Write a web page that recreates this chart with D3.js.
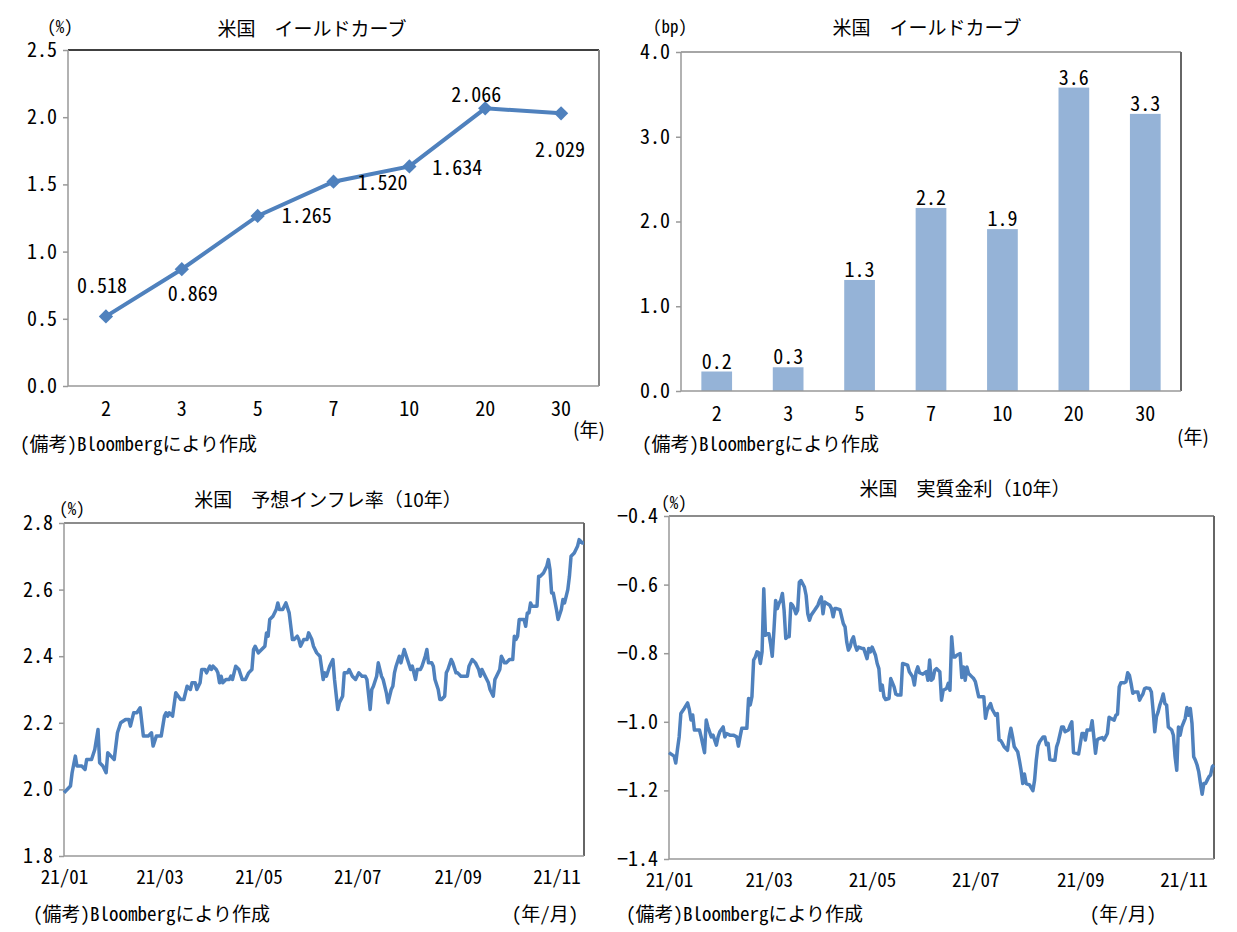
<!DOCTYPE html>
<html>
<head>
<meta charset="utf-8">
<script src="https://cdn.jsdelivr.net/npm/d3@7"></script>
<style>
body { margin: 0; background: #fff; }
text { font-family: "Noto Sans CJK JP", "Noto Sans", sans-serif; fill: #000; }
.num { font-feature-settings: "hwid"; }
</style>
</head>
<body>
<svg id="chart" width="1237" height="932"></svg>
<script>
// ---- data ----
const tenors = ["2", "3", "5", "7", "10", "20", "30"];
const yieldLevels = [0.518, 0.869, 1.265, 1.520, 1.634, 2.066, 2.029];
const yieldChanges = [0.23, 0.28, 1.31, 2.16, 1.91, 3.58, 3.27];

const inflDates = ["01-04","01-08","01-09","01-11","01-12","01-15","01-17","01-18","01-21","01-23","01-25","01-26","01-28","01-30","01-31",
  "02-02","02-04","02-06","02-08","02-11","02-13","02-14","02-16","02-18","02-20","02-22","02-25","02-27","02-28",
  "03-02","03-05","03-07","03-08","03-09","03-10","03-12","03-14","03-17","03-19","03-21","03-23","03-24","03-26","03-27","03-29","03-30",
  "04-01","04-02","04-04","04-05","04-06","04-08","04-09","04-10","04-11","04-12","04-14","04-16","04-17","04-18","04-20","04-22","04-24","04-26","04-28","04-30",
  "05-01","05-02","05-04","05-06","05-08","05-09","05-10","05-11","05-13","05-15","05-16","05-17","05-19","05-21","05-23","05-25","05-26","05-28","05-29","05-30",
  "06-01","06-03","06-04","06-06","06-07","06-09","06-11","06-13","06-14","06-15","06-17","06-19","06-20","06-22","06-23","06-25","06-26","06-28","06-29",
  "07-01","07-03","07-05","07-07","07-09","07-10","07-12","07-13","07-14","07-16","07-17","07-19","07-20","07-22","07-23","07-25","07-26","07-27","07-28","07-30","07-31",
  "08-02","08-04","08-06","08-07","08-09","08-10","08-12","08-13","08-15","08-16","08-17","08-19","08-20","08-21","08-23","08-24","08-25","08-27","08-28","08-29","08-31",
  "09-01","09-03","09-04","09-06","09-08","09-10","09-11","09-13","09-15","09-17","09-18","09-19","09-21","09-23","09-24","09-26","09-27","09-28","09-30",
  "10-01","10-03","10-04","10-06","10-08","10-09","10-10","10-11","10-12","10-13","10-15","10-16","10-17","10-18","10-19","10-20","10-22","10-23","10-24","10-25","10-27","10-29","10-30","10-31",
  "11-01","11-02","11-04","11-05","11-07","11-08","11-09","11-11","11-12","11-13","11-15","11-17","11-18","11-20","11-21"];
const inflValues = [1.99,2.01,2.05,2.10,2.07,2.07,2.06,2.09,2.09,2.12,2.18,2.08,2.07,2.05,2.11,
  2.10,2.09,2.17,2.20,2.21,2.21,2.19,2.23,2.23,2.245,2.16,2.16,2.17,2.13,
  2.16,2.16,2.22,2.23,2.22,2.23,2.22,2.29,2.27,2.27,2.31,2.30,2.32,2.32,2.30,2.32,2.36,
  2.36,2.35,2.37,2.36,2.37,2.36,2.35,2.32,2.34,2.32,2.33,2.33,2.34,2.33,2.37,2.36,2.33,2.33,2.35,2.36,
  2.42,2.43,2.41,2.42,2.43,2.47,2.46,2.51,2.52,2.54,2.56,2.54,2.54,2.56,2.53,2.45,2.45,2.46,2.45,2.43,
  2.45,2.45,2.47,2.45,2.43,2.41,2.40,2.33,2.35,2.34,2.37,2.39,2.33,2.24,2.26,2.28,2.35,2.35,2.36,
  2.34,2.33,2.35,2.34,2.34,2.33,2.24,2.30,2.31,2.34,2.38,2.34,2.33,2.29,2.26,2.30,2.31,2.35,2.37,2.40,2.38,
  2.42,2.39,2.36,2.37,2.33,2.36,2.36,2.37,2.40,2.42,2.38,2.38,2.37,2.33,2.30,2.27,2.27,2.28,2.35,2.36,2.39,
  2.38,2.35,2.35,2.34,2.34,2.34,2.37,2.39,2.38,2.36,2.34,2.36,2.34,2.32,2.30,2.28,2.33,2.34,2.36,
  2.40,2.38,2.38,2.39,2.39,2.46,2.45,2.46,2.51,2.51,2.51,2.49,2.53,2.53,2.56,2.55,2.55,2.55,2.64,2.64,2.65,2.67,2.69,2.66,
  2.59,2.59,2.54,2.51,2.54,2.57,2.56,2.60,2.64,2.70,2.71,2.73,2.75,2.74,2.74];

const realDates = ["01-04","01-07","01-08","01-09","01-10","01-11","01-13","01-15","01-16","01-17","01-18","01-19","01-20","01-22","01-23","01-25","01-26","01-27","01-29","01-30",
  "02-01","02-02","02-03","02-05","02-06","02-07","02-09","02-11","02-13","02-14","02-15","02-16","02-17","02-19","02-20","02-21","02-22","02-23","02-24","02-25","02-26","02-27","02-28",
  "03-01","03-02","03-03","03-04","03-05","03-06","03-07","03-08","03-09","03-10","03-11","03-12","03-13","03-14","03-15","03-16","03-17","03-18","03-19","03-20","03-21","03-22","03-23","03-25","03-26","03-27","03-28","03-29","03-31",
  "04-02","04-03","04-04","04-05","04-06","04-07","04-09","04-10","04-11","04-12","04-13","04-15","04-17","04-18","04-19","04-20","04-21","04-22","04-23","04-24","04-25","04-26","04-28","04-29","04-30",
  "05-01","05-02","05-03","05-04","05-06","05-07","05-08","05-09","05-10","05-11","05-12","05-14","05-15","05-17","05-18","05-19","05-21","05-22","05-25","05-26","05-28","05-29","05-30","05-31",
  "06-01","06-03","06-05","06-06","06-07","06-08","06-09","06-10","06-11","06-13","06-14","06-15","06-17","06-18","06-19","06-20","06-21","06-22","06-23","06-25","06-26","06-27","06-28","06-29","06-30",
  "07-02","07-03","07-04","07-06","07-08","07-09","07-10","07-11","07-13","07-14","07-16","07-17","07-18","07-19","07-20","07-21","07-23","07-24","07-25","07-26","07-27","07-29","07-30","07-31",
  "08-01","08-02","08-03","08-05","08-07","08-08","08-09","08-10","08-11","08-13","08-14","08-15","08-16","08-17","08-19","08-20","08-21","08-22","08-24","08-25","08-26","08-28","08-29","08-30","08-31",
  "09-02","09-03","09-05","09-06","09-07","09-08","09-10","09-11","09-12","09-13","09-14","09-15","09-17","09-18","09-20","09-21","09-22","09-24","09-25","09-26","09-27","09-28","09-30",
  "10-01","10-02","10-03","10-04","10-05","10-06","10-08","10-09","10-10","10-11","10-12","10-13","10-15","10-16","10-17","10-18","10-19","10-20","10-21","10-22","10-23","10-24","10-25","10-26","10-28","10-29","10-30","10-31",
  "11-01","11-02","11-03","11-05","11-06","11-07","11-08","11-09","11-10","11-11","11-12","11-13","11-14","11-15","11-16","11-17","11-18","11-19","11-20","11-21","11-22"];
const realValues = [-1.09,-1.10,-1.12,-1.08,-1.044,-0.976,-0.961,-0.945,-0.964,-0.995,-0.98,-1.024,-1.024,-1.024,-1.044,-1.09,-0.995,-1.015,-1.044,-1.039,
  -1.068,-1.044,-1.029,-1.015,-1.044,-1.034,-1.039,-1.039,-1.044,-1.071,-1.044,-1.019,-1.019,-1.019,-0.932,-0.951,-0.927,-0.82,-0.811,-0.796,-0.799,-0.83,-0.796,
  -0.612,-0.748,-0.743,-0.743,-0.772,-0.809,-0.733,-0.646,-0.67,-0.655,-0.646,-0.626,-0.675,-0.757,-0.752,-0.752,-0.655,-0.66,-0.67,-0.685,-0.675,-0.593,-0.588,-0.607,-0.631,-0.685,-0.704,-0.689,-0.675,
  -0.66,-0.646,-0.636,-0.685,-0.651,-0.654,-0.66,-0.67,-0.694,-0.67,-0.67,-0.673,-0.714,-0.723,-0.767,-0.791,-0.782,-0.762,-0.752,-0.777,-0.791,-0.782,-0.786,-0.786,-0.801,
  -0.816,-0.786,-0.796,-0.782,-0.806,-0.83,-0.845,-0.908,-0.893,-0.927,-0.935,-0.932,-0.874,-0.898,-0.919,-0.922,-0.922,-0.830,-0.835,-0.854,-0.869,-0.893,-0.854,-0.840,
  -0.857,-0.861,-0.854,-0.879,-0.820,-0.879,-0.874,-0.850,-0.845,-0.854,-0.937,-0.908,-0.903,-0.888,-0.908,-0.752,-0.811,-0.811,-0.806,-0.801,-0.871,-0.840,-0.879,-0.840,-0.859,
  -0.869,-0.874,-0.883,-0.927,-0.927,-0.927,-0.990,-0.966,-0.947,-0.964,-0.981,-0.976,-1.053,-1.055,-1.063,-1.073,-1.083,-1.044,-1.019,-1.044,-1.073,-1.087,-1.112,-1.141,
  -1.180,-1.152,-1.180,-1.184,-1.201,-1.170,-1.112,-1.071,-1.058,-1.044,-1.044,-1.067,-1.063,-1.110,-1.112,-1.112,-1.073,-1.058,-1.015,-1.015,-1.029,-1.024,-1.010,-1.000,-1.090,
  -1.092,-1.094,-1.034,-1.034,-1.053,-1.024,-1.024,-0.997,-1.044,-1.092,-1.053,-1.049,-1.046,-1.053,-1.034,-0.987,-0.990,-0.995,-0.981,-0.978,-0.898,-0.886,-0.886,
  -0.883,-0.857,-0.864,-0.888,-0.917,-0.913,-0.913,-0.937,-0.927,-0.919,-0.903,-0.901,-0.903,-0.913,-0.966,-1.029,-0.985,-0.971,-0.951,-0.937,-0.919,-0.947,-0.951,-1.015,-1.024,-1.039,-1.102,-1.141,
  -1.015,-1.039,-1.015,-0.990,-0.958,-0.981,-0.961,-1.005,-1.102,-1.112,-1.126,-1.146,-1.180,-1.211,-1.180,-1.180,-1.170,-1.160,-1.155,-1.131,-1.126];

const monthTicks = ["01-04", "03-04", "05-04", "07-04", "09-04", "11-04"];

// label placement for the yield curve points (dx, dy from the marker)
const levelLabelOffsets = [[-4, -32], [11, 23], [49, -1], [49, 0], [48, 0], [-9, -15], [-1, 35]];

const blue = "#4F81BD";
const barBlue = "#95B3D7";
const parseDay = s => d3.timeParse("%Y-%m-%d")("2021-" + s);
const svg = d3.select("#chart");

// plot frame: left/bottom axis lines plus top/right border
function drawFrame(g, w, h, topColor, rightColor) {
    g.append("line").attr("x1", 0).attr("x2", w).attr("y1", 0).attr("y2", 0)
        .style("stroke", topColor).style("stroke-width", 1.5);
    g.append("line").attr("x1", w).attr("x2", w).attr("y1", 0).attr("y2", h)
        .style("stroke", rightColor).style("stroke-width", 2);
    g.append("line").attr("x1", 0).attr("x2", 0).attr("y1", 0).attr("y2", h)
        .style("stroke", "#999").style("stroke-width", 1.5);
    g.append("line").attr("x1", 0).attr("x2", w).attr("y1", h).attr("y2", h)
        .style("stroke", "#999").style("stroke-width", 1.5);
}

function drawYAxis(g, yScale, ticks, fmt) {
    const ax = g.append("g")
        .call(d3.axisLeft(yScale).tickValues(ticks).tickFormat(fmt).tickSize(5).tickPadding(6));
    ax.select(".domain").remove();
    ax.selectAll("line").style("stroke", "#999").style("stroke-width", 1.5);
    ax.selectAll("text").attr("class", "num").style("font-size", "20px").style("font-family", null);
}

function addText(x, y, str, size, anchor, cls) {
    return svg.append("text")
        .attr("x", x).attr("y", y)
        .attr("class", cls || null)
        .attr("dominant-baseline", "central")
        .style("text-anchor", anchor || "middle")
        .style("font-size", size + "px")
        .text(str);
}

// ---- top left: yield curve level ----
function drawLevelChart() {
    const m = {left: 68, top: 50}, w = 531, h = 336;
    const g = svg.append("g").attr("transform", "translate(" + m.left + "," + m.top + ")");
    const x = d3.scaleBand().domain(tenors).range([0, w]);
    const y = d3.scaleLinear().domain([0, 2.5]).range([h, 0]);

    drawFrame(g, w, h, "#000", "#888");
    drawYAxis(g, y, d3.range(0, 2.51, 0.5), d3.format(".1f"));

    g.selectAll(".xlab").data(tenors).enter().append("text")
        .attr("class", "num")
        .attr("x", d => x(d) + x.bandwidth() / 2)
        .attr("y", h + 21)
        .attr("dominant-baseline", "central")
        .style("text-anchor", "middle").style("font-size", "20px")
        .text(d => d);

    const pts = tenors.map((t, i) => ({t: t, v: yieldLevels[i], i: i}));
    const line = d3.line().x(d => x(d.t) + x.bandwidth() / 2).y(d => y(d.v));
    g.append("path").datum(pts).attr("d", line)
        .style("fill", "none").style("stroke", blue).style("stroke-width", 4);

    g.selectAll(".mark").data(pts).enter().append("path")
        .attr("d", d3.symbol().type(d3.symbolDiamond2).size(130))
        .attr("transform", d => "translate(" + (x(d.t) + x.bandwidth() / 2) + "," + y(d.v) + ")")
        .style("fill", blue);

    g.selectAll(".dlab").data(pts).enter().append("text")
        .attr("class", "num")
        .attr("x", d => x(d.t) + x.bandwidth() / 2 + levelLabelOffsets[d.i][0])
        .attr("y", d => y(d.v) + levelLabelOffsets[d.i][1])
        .attr("dominant-baseline", "central")
        .style("text-anchor", "middle").style("font-size", "20px")
        .text(d => d3.format(".3f")(d.v));

    addText(312, 27, "米国　イールドカーブ", 19);
    addText(60, 25, "(%)", 17, "middle", "num");
    addText(589, 428, "(年)", 19, "middle");
    addText(20, 442, "(備考)Bloombergにより作成", 19, "start", "num");
}

// ---- top right: yield curve change (bars) ----
function drawChangeChart() {
    const m = {left: 681, top: 52}, w = 500, h = 339;
    const g = svg.append("g").attr("transform", "translate(" + m.left + "," + m.top + ")");
    const x = d3.scaleBand().domain(tenors).range([0, w]).paddingInner(0.57).paddingOuter(0.285);
    const y = d3.scaleLinear().domain([0, 4]).range([h, 0]);

    const bars = tenors.map((t, i) => ({t: t, v: yieldChanges[i]}));
    g.selectAll(".bar").data(bars).enter().append("rect")
        .attr("x", d => x(d.t))
        .attr("y", d => y(d.v))
        .attr("width", x.bandwidth())
        .attr("height", d => h - y(d.v))
        .style("fill", barBlue);

    drawFrame(g, w, h, "#888", "#666");
    drawYAxis(g, y, d3.range(0, 4.01, 1), d3.format(".1f"));

    g.selectAll(".xlab").data(tenors).enter().append("text")
        .attr("class", "num")
        .attr("x", d => x(d) + x.bandwidth() / 2)
        .attr("y", h + 21)
        .attr("dominant-baseline", "central")
        .style("text-anchor", "middle").style("font-size", "20px")
        .text(d => d);

    g.selectAll(".blab").data(bars).enter().append("text")
        .attr("class", "num")
        .attr("x", d => x(d.t) + x.bandwidth() / 2)
        .attr("y", d => y(d.v) - 3)
        .style("text-anchor", "middle").style("font-size", "20px")
        .text(d => d3.format(".1f")(d.v));

    addText(927, 26, "米国　イールドカーブ", 19);
    addText(670, 25, "(bp)", 17, "middle", "num");
    addText(1193, 435, "(年)", 19, "middle");
    addText(642, 442, "(備考)Bloombergにより作成", 19, "start", "num");
}

// ---- bottom: daily series ----
function drawSeriesChart(left, top, w, h, dates, values, yDomain, yTicks) {
    const g = svg.append("g").attr("transform", "translate(" + left + "," + top + ")");
    const pts = dates.map((d, i) => ({date: parseDay(d), v: values[i]}));
    const x = d3.scaleTime().domain([pts[0].date, pts[pts.length - 1].date]).range([0, w]);
    const y = d3.scaleLinear().domain(yDomain).range([h, 0]);

    drawFrame(g, w, h, "#666", "#666");
    drawYAxis(g, y, yTicks, d3.format(".1f"));

    const xa = g.append("g").attr("transform", "translate(0," + h + ")")
        .call(d3.axisBottom(x).tickValues(monthTicks.map(parseDay))
            .tickFormat(d3.timeFormat("%y/%m")).tickSize(0).tickPadding(15));
    xa.select(".domain").remove();
    xa.selectAll("text").attr("class", "num").style("font-size", "19px").style("font-family", null);

    g.append("path").datum(pts)
        .attr("d", d3.line().x(d => x(d.date)).y(d => y(d.v)))
        .style("fill", "none").style("stroke", blue).style("stroke-width", 3.5)
        .style("stroke-linejoin", "round");
}

drawLevelChart();
drawChangeChart();

drawSeriesChart(64, 523, 520, 333, inflDates, inflValues, [1.8, 2.8], d3.range(1.8, 2.81, 0.2));
addText(328, 498, "米国　予想インフレ率（10年）", 19);
addText(72, 507, "(%)", 17, "middle", "num");
addText(545, 912, "(年/月)", 19, "middle", "num");
addText(33, 912, "(備考)Bloombergにより作成", 19, "start", "num");

drawSeriesChart(669, 516, 545, 343, realDates, realValues, [-1.4, -0.4], d3.range(-1.4, -0.39, 0.2));
addText(965, 487, "米国　実質金利（10年）", 19);
addText(674, 501, "(%)", 17, "middle", "num");
addText(1123, 912, "(年/月)", 19, "middle", "num");
addText(626, 912, "(備考)Bloombergにより作成", 19, "start", "num");
</script>
</body>
</html>
